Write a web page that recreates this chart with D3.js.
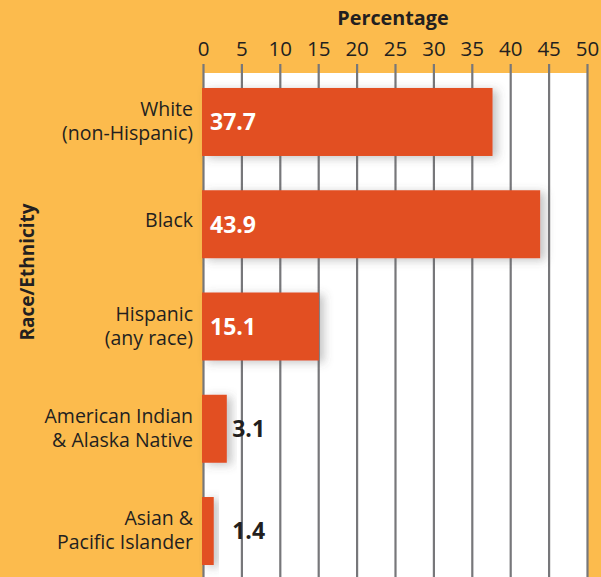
<!DOCTYPE html>
<html>
<head>
<meta charset="utf-8">
<script src="https://cdn.jsdelivr.net/npm/d3@7"></script>
<style>
  body { margin: 0; background: #fcbb4d; }
  svg { display: block; font-family: "Open Sans", sans-serif; }
</style>
</head>
<body>
<script>
var categories = [
  ["White", "(non-Hispanic)"],
  ["Black"],
  ["Hispanic", "(any race)"],
  ["American Indian", "& Alaska Native"],
  ["Asian &", "Pacific Islander"]
];
var values = [37.7, 43.9, 15.1, 3.1, 1.4];
var tickValues = [0, 5, 10, 15, 20, 25, 30, 35, 40, 45, 50];

var width = 601, height = 577;
var ink = "#231f20";

var svg = d3.select("body").append("svg")
    .attr("width", width)
    .attr("height", height);

var defs = svg.append("defs");
var shadow = defs.append("filter")
    .attr("id", "shadow")
    .attr("x", "-20%").attr("y", "-30%")
    .attr("width", "160%").attr("height", "160%");
shadow.append("feDropShadow")
    .attr("dx", 5).attr("dy", 2)
    .attr("stdDeviation", 5)
    .attr("flood-color", "#555")
    .attr("flood-opacity", 0.35);

var x = d3.scaleLinear().domain([0, 50]).range([203, 587]);
var y = d3.scaleBand()
    .domain(d3.range(values.length))
    .range([70.6, 582.4])
    .paddingInner(0.335)
    .paddingOuter(0.17);

// white plot area
svg.append("rect")
    .attr("x", x(0))
    .attr("y", 73)
    .attr("width", x(50) - x(0))
    .attr("height", height - 73)
    .attr("fill", "#fff");

// axis with grid lines
var axis = svg.append("g")
    .attr("transform", "translate(0,64)")
    .call(d3.axisTop(x).tickValues(tickValues).tickSizeInner(-(height - 64)).tickSizeOuter(0).tickPadding(8));
axis.select(".domain").remove();
axis.selectAll("line")
    .attr("stroke", "#77777a")
    .attr("stroke-width", 2.2);
axis.selectAll("text")
    .attr("font-size", 20.5)
    .attr("font-family", "Open Sans, sans-serif")
    .attr("fill", ink);

svg.append("text")
    .attr("x", 393)
    .attr("y", 25)
    .attr("text-anchor", "middle")
    .attr("font-size", 19.8)
    .attr("font-weight", "bold")
    .attr("fill", ink)
    .text("Percentage");

svg.append("text")
    .attr("transform", "translate(34,272) rotate(-90)")
    .attr("text-anchor", "middle")
    .attr("font-size", 19)
    .attr("font-weight", "bold")
    .attr("fill", ink)
    .text("Race/Ethnicity");

// bars
svg.selectAll("rect.bar")
    .data(values)
    .enter().append("rect")
    .attr("class", "bar")
    .attr("x", x(0) - 1)
    .attr("y", function(d, i){ return y(i); })
    .attr("width", function(d){ return x(d) - x(0) + 1; })
    .attr("height", y.bandwidth())
    .attr("fill", "#e24f24")
    .attr("filter", "url(#shadow)");

// value labels
svg.selectAll("text.value")
    .data(values)
    .enter().append("text")
    .attr("class", "value")
    .attr("x", function(d){ return d > 10 ? x(0) + 7 : Math.max(x(d) + 1, x(3.8)); })
    .attr("y", function(d, i){ return y(i) + y.bandwidth() / 2; })
    .attr("dy", "0.36em")
    .attr("font-size", 23)
    .attr("font-weight", "bold")
    .attr("fill", function(d){ return d > 10 ? "#fff" : ink; })
    .text(function(d){ return d.toFixed(1); });

// category labels
var cat = svg.selectAll("text.cat")
    .data(categories)
    .enter().append("text")
    .attr("class", "cat")
    .attr("text-anchor", "end")
    .attr("font-size", 19.5)
    .attr("fill", ink);
cat.selectAll("tspan")
    .data(function(d, i){ return d.map(function(t, j){ return {t: t, j: j, n: d.length, i: i}; }); })
    .enter().append("tspan")
    .attr("x", 193)
    .attr("y", function(d){
        var c = y(d.i) + y.bandwidth() / 2;
        return d.n === 1 ? c + 3 : c - 6 + d.j * 24;
    })
    .text(function(d){ return d.t; });
</script>
</body>
</html>
